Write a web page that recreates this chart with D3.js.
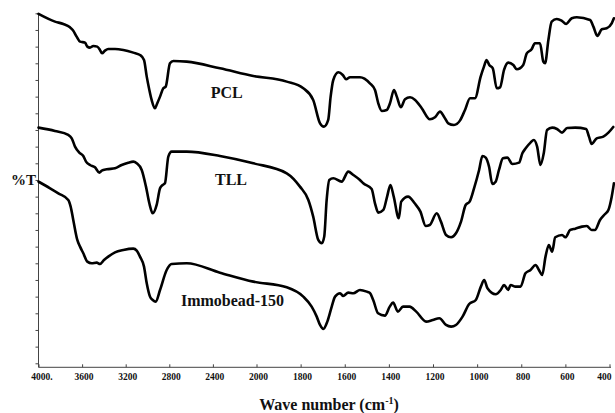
<!DOCTYPE html>
<html>
<head>
<meta charset="utf-8">
<script src="https://cdn.jsdelivr.net/npm/d3@7"></script>
<style>
  html, body { margin: 0; padding: 0; background: #fff; }
  svg { display: block; }
  text { font-family: "Liberation Serif", "Times New Roman", serif; font-weight: bold; fill: #111; }
</style>
</head>
<body>
<svg id="chart" width="615" height="413"></svg>
<script>
// ---------- data ----------
const xTickValues = [4000, 3600, 3200, 2800, 2400, 2000, 1800, 1600, 1400, 1200, 1000, 800, 600, 400];
const xTickLabels = ["4000.", "3600", "3200", "2800", "2400", "2000", "1800", "1600", "1400", "1200", "1000", "800", "600", "400"];
const yTickValues = d3.range(0, 106, 5);

const seriesNames = ["PCL", "TLL", "Immobead-150"];

const pclWave = [4000,3849,3772,3711,3686,3650,3619,3573,3552,3528,3497,3461,3436,3417,3390,3360,3298,3222,3130,3069,3032,3007,2983,2962,2931,2913,2885,2855,2833,2794,2763,2640,2335,2029,1863,1788,1743,1712,1694,1675,1664,1652,1629,1609,1594,1576,1531,1486,1463,1448,1432,1410,1395,1377,1364,1346,1327,1304,1281,1251,1214,1191,1168,1150,1131,1105,1078,1055,1032,1010,984,969,957,945,929,911,896,878,859,836,820,791,775,753,738,715,700,692,677,662,639,617,597,571,548,488,473,455,435,413,390,380];
const pclT    = [104.8,102.5,101.8,100.8,100.0,98.0,96.5,96.2,95.0,94.7,95.2,95.0,94.0,93.0,93.8,94.3,94.3,94.0,93.2,92.5,91.0,86.0,82.0,79.0,76.5,77.8,80.0,82.5,83.0,90.0,90.7,90.5,88.5,86.2,84.5,82.5,79.0,72.0,71.0,73.0,80.0,85.0,87.3,86.5,85.2,85.8,85.8,84.0,82.0,78.0,75.7,76.0,78.0,82.0,80.0,76.8,79.2,79.8,79.0,76.5,73.2,73.8,75.5,74.0,72.0,71.5,72.8,76.0,79.5,79.5,86.0,89.0,91.0,89.5,88.5,82.5,82.8,88.0,90.2,89.5,88.2,89.5,93.0,94.2,96.0,96.0,90.5,90.0,97.0,102.5,103.3,102.8,101.8,103.5,103.8,103.0,101.0,98.2,100.2,100.5,102.0,103.5];

const tllWave = [4000,3849,3727,3695,3665,3626,3589,3564,3528,3482,3442,3420,3374,3298,3237,3176,3130,3099,3053,3014,2983,2952,2916,2885,2861,2840,2809,2778,2640,2335,2029,1863,1803,1765,1743,1720,1704,1693,1682,1670,1652,1614,1584,1561,1531,1516,1478,1463,1448,1425,1408,1393,1378,1355,1344,1313,1283,1257,1233,1215,1183,1164,1141,1118,1096,1073,1052,1034,1014,991,976,961,946,931,916,901,883,863,840,810,795,780,758,743,728,713,698,683,660,638,615,592,555,506,493,481,458,428,405,383];
const tllT    = [70.7,69.7,68.5,67.5,65.0,63.2,62.2,60.5,59.5,58.8,57.2,57.8,58.2,58.5,59.5,60.2,60.5,60.0,58.0,53.0,48.0,45.0,47.5,52.5,53.5,54.0,62.0,63.5,63.5,62.2,60.0,57.0,53.0,49.0,44.0,37.0,36.0,38.0,49.0,55.0,55.5,54.5,57.5,56.5,55.0,54.0,52.3,48.0,45.2,46.0,50.0,53.5,50.0,43.5,48.5,50.0,48.0,45.5,41.2,41.5,45.0,42.5,38.5,37.8,39.0,42.5,47.5,48.5,52.5,58.0,62.2,61.7,59.0,53.8,54.5,58.0,61.5,61.7,59.8,60.2,63.0,64.5,66.2,67.0,65.0,59.5,63.0,70.0,70.7,70.3,69.2,70.6,70.7,70.3,68.0,65.8,67.5,68.0,69.2,70.9];

const immWave = [4000,3894,3818,3727,3705,3681,3644,3619,3589,3552,3512,3466,3436,3399,3360,3298,3222,3130,3099,3069,3032,3007,2977,2952,2925,2885,2824,2778,2640,2335,2029,1863,1788,1750,1727,1712,1697,1679,1659,1644,1621,1607,1584,1561,1531,1500,1486,1471,1449,1418,1396,1381,1359,1336,1306,1276,1231,1201,1171,1141,1118,1096,1066,1036,1006,983,968,953,916,893,878,859,848,826,803,781,758,735,720,705,690,675,660,646,615,600,578,555,525,503,481,466,443,420,405,390,380];
const immT    = [54.5,52.5,51.0,49.0,47.0,43.0,37.0,35.0,33.0,30.5,30.0,30.2,29.8,31.0,32.0,33.3,34.0,34.4,33.8,32.0,29.0,24.0,20.0,19.0,18.5,22.0,28.0,29.8,30.0,27.2,24.5,22.8,20.0,17.0,14.0,11.5,10.3,12.5,17.0,20.0,21.0,20.2,21.2,21.0,22.0,21.5,21.1,19.0,15.0,14.3,17.0,18.2,15.5,17.0,17.0,15.5,12.5,13.0,13.5,11.5,11.0,11.5,14.0,17.8,19.0,23.0,25.0,22.5,20.7,22.0,23.5,22.0,23.5,23.0,23.0,27.0,28.0,29.5,28.0,26.5,32.0,35.5,33.5,37.8,38.5,37.8,40.0,40.4,41.0,41.2,40.0,40.0,43.0,44.8,46.0,50.0,54.0];

const seriesWaves = [pclWave, tllWave, immWave];
const seriesValues = [pclT, tllT, immT];

// curve annotations (wavenumber, %T of text baseline)
const labelWave = [2420, 2381, 2693];
const labelT = [79.7, 53.5, 17.3];

// ---------- layout ----------
const svg = d3.select("#chart");
const x = d3.scaleLinear().domain([4000, 2000, 400]).range([38.5, 256.5, 609.5]);
const y = d3.scaleLinear().domain([0, 105]).range([363.3, 13.3]);
const axisY = 367.3;
const axisColor = "#444";

// y axis (ticks only, outward)
const yAxis = svg.append("g")
  .attr("transform", `translate(${x(4000)},0)`)
  .call(d3.axisLeft(y).tickValues(yTickValues).tickSize(3).tickFormat(""));
yAxis.select(".domain").remove();
yAxis.selectAll(".tick line").attr("stroke", axisColor);
svg.append("line")
  .attr("x1", x(4000)).attr("x2", x(4000))
  .attr("y1", y(105)).attr("y2", axisY)
  .attr("stroke", axisColor).attr("stroke-width", 1);

// x axis (ticks inward)
const labelMap = new Map(xTickValues.map((v, i) => [v, xTickLabels[i]]));
const xAxis = svg.append("g")
  .attr("transform", `translate(0,${axisY})`)
  .call(d3.axisBottom(x).tickValues(xTickValues).tickSizeInner(-3).tickSizeOuter(0)
    .tickPadding(6).tickFormat(d => labelMap.get(d)));
xAxis.select(".domain").remove();
xAxis.selectAll(".tick line").attr("stroke", axisColor);
xAxis.selectAll(".tick text")
  .style("font-family", "'Liberation Serif', 'Times New Roman', serif")
  .style("font-weight", "bold")
  .style("font-size", "9.5px")
  .attr("fill", "#111")
  .attr("dx", d => d === 400 ? "-0.6em" : (d === 4000 ? "0.3em" : "0.15em"));
svg.append("line")
  .attr("x1", x(4000)).attr("x2", x(400) + 1.5)
  .attr("y1", axisY).attr("y2", axisY)
  .attr("stroke", axisColor).attr("stroke-width", 1);

// curves
const line = d3.line()
  .x(d => x(d[0]))
  .y(d => y(d[1]))
  .curve(d3.curveMonotoneX);

seriesNames.forEach((name, i) => {
  const pts = seriesWaves[i].map((w, j) => [w, seriesValues[i][j]]);
  svg.append("path")
    .datum(pts)
    .attr("fill", "none")
    .attr("stroke", "#000")
    .attr("stroke-width", 2.6)
    .attr("stroke-linejoin", "round")
    .attr("stroke-linecap", "round")
    .attr("d", line);
  svg.append("text")
    .attr("x", x(labelWave[i]))
    .attr("y", y(labelT[i]))
    .style("font-size", "16px")
    .text(name);
});

// axis titles
svg.append("text")
  .attr("x", 36).attr("y", 185)
  .attr("text-anchor", "end")
  .style("font-size", "15px")
  .text("%T");

const title = svg.append("text")
  .attr("x", 329).attr("y", 410)
  .attr("text-anchor", "middle")
  .style("font-size", "16px");
title.append("tspan").text("Wave number (cm");
title.append("tspan").attr("dy", -6).style("font-size", "10px").text("-1");
title.append("tspan").attr("dy", 6).text(")");
</script>
</body>
</html>
